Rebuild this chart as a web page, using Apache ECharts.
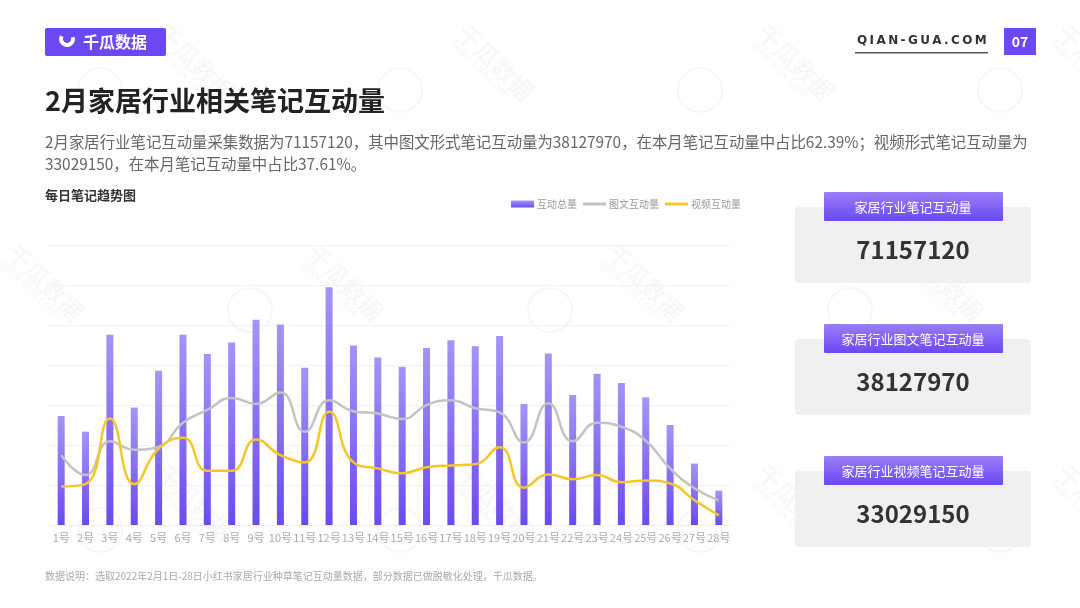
<!DOCTYPE html>
<html>
<head>
<meta charset="utf-8">
<script src="https://cdn.jsdelivr.net/npm/echarts@6/dist/echarts.min.js"></script>
<style>
html, body { margin: 0; padding: 0; background: #fff; }
#main { width: 1080px; height: 608px; }
</style>
</head>
<body>
<div id="main"></div>
<script>
// 每日数据（单位：万）
var days = ['1号','2号','3号','4号','5号','6号','7号','8号','9号','10号','11号','12号','13号','14号',
            '15号','16号','17号','18号','19号','20号','21号','22号','23号','24号','25号','26号','27号','28号'];
var totalData = [181,155,316,195,256,316,284,303,341,333,261,395,298,278,
                 263,294,307,297,314,201,285,216,251,236,212,166,102,57];
var imageTextData = [116,83,139,125,130,170,191,211,201,220,155,207,189,185,
                     176,199,207,194,187,137,202,139,170,163,140,94,61,41];
var videoData = [64,68,177,68,127,145,90,90,142,116,104,188,104,94,
                 86,96,99,101,129,62,84,76,83,71,74,69,41,16];
var seriesNames = ['互动总量', '图文互动量', '视频互动量'];
var cardLabels = ['家居行业笔记互动量', '家居行业图文笔记互动量', '家居行业视频笔记互动量'];
var cardValues = ['71157120', '38127970', '33029150'];
var yMax = 465;

var FONT = '"Noto Sans CJK SC", "Noto Sans", sans-serif';
var purple = '#6c48f2';

var chart = echarts.init(document.getElementById('main'));

function purpleGrad(top, bottom) {
    return new echarts.graphic.LinearGradient(0, 0, 0, 1, [
        { offset: 0, color: top },
        { offset: 1, color: bottom }
    ]);
}

var graphics = [];

// 水印
var wmPos = [[170, 20], [470, 20], [770, 20], [1070, 20], [20, 240], [320, 240], [620, 240], [920, 240],
             [170, 460], [470, 460], [770, 460], [1070, 460]];
wmPos.forEach(function (p) {
    graphics.push({
        type: 'circle', silent: true, z: 0,
        shape: { cx: p[0] - 70, cy: p[1] + 70, r: 22 },
        style: { fill: 'none', stroke: 'rgba(0,0,0,0.035)', lineWidth: 2 }
    });
    graphics.push({
        type: 'text', silent: true, z: 0, x: p[0], y: p[1], rotation: -Math.PI / 4,
        style: { text: '千瓜数据', font: 'bold 24px ' + FONT, fill: 'rgba(0,0,0,0.03)' }
    });
    graphics.push({
        type: 'text', silent: true, z: 0, x: p[0] - 14, y: p[1] + 18, rotation: -Math.PI / 4,
        style: { text: 'QIAN-GUA.COM', font: 'bold 10px ' + FONT, fill: 'rgba(0,0,0,0.03)' }
    });
});

// 顶部 logo
graphics.push({
    type: 'rect', shape: { x: 45, y: 28, width: 121, height: 28, r: 2 },
    style: { fill: purple }
});
graphics.push({
    type: 'arc', shape: { cx: 67, cy: 39, r: 6, startAngle: -0.3, endAngle: Math.PI + 0.5 },
    style: { stroke: '#fff', lineWidth: 4, fill: 'none' }
});
graphics.push({
    type: 'text', x: 83, y: 42,
    style: { text: '千瓜数据', font: 'bold 16px ' + FONT, fill: '#fff', textVerticalAlign: 'middle' }
});
graphics.push({
    type: 'text', x: 857, y: 41,
    style: { text: 'Q\u2009I\u2009A\u2009N\u2009-\u2009G\u2009U\u2009A\u2009.\u2009C\u2009O\u2009M',
             font: 'bold 12px "DejaVu Sans", sans-serif', fill: '#333', textVerticalAlign: 'middle' }
});
graphics.push({
    type: 'rect', shape: { x: 855, y: 52, width: 133, height: 1.5 }, style: { fill: '#555' }
});
graphics.push({
    type: 'rect', shape: { x: 1004, y: 28, width: 32, height: 27 }, style: { fill: purple }
});
graphics.push({
    type: 'text', x: 1020, y: 42,
    style: { text: '07', font: 'bold 14px ' + FONT, fill: '#fff', textAlign: 'center', textVerticalAlign: 'middle' }
});

// 标题和说明
graphics.push({
    type: 'text', x: 45, y: 101,
    style: { text: '2月家居行业相关笔记互动量', font: 'bold 27px ' + FONT, fill: '#222', textVerticalAlign: 'middle' }
});
graphics.push({
    type: 'text', x: 45, y: 142,
    style: { text: '2月家居行业笔记互动量采集数据为71157120，其中图文形式笔记互动量为38127970，在本月笔记互动量中占比62.39%；视频形式笔记互动量为',
             font: '15.4px ' + FONT, fill: '#666', textVerticalAlign: 'middle' }
});
graphics.push({
    type: 'text', x: 45, y: 164,
    style: { text: '33029150，在本月笔记互动量中占比37.61%。', font: '15.4px ' + FONT, fill: '#666', textVerticalAlign: 'middle' }
});
graphics.push({
    type: 'text', x: 45, y: 195,
    style: { text: '每日笔记趋势图', font: 'bold 13px ' + FONT, fill: '#333', textVerticalAlign: 'middle' }
});
graphics.push({
    type: 'text', x: 45, y: 576,
    style: { text: '数据说明：选取2022年2月1日-28日小红书家居行业种草笔记互动量数据，部分数据已做脱敏化处理，千瓜数据。',
             font: '10px ' + FONT, fill: '#aaa', textVerticalAlign: 'middle' }
});

// 右侧卡片
var cardTops = [192, 324, 456];
cardTops.forEach(function (t, i) {
    graphics.push({
        type: 'rect', shape: { x: 795, y: t + 15, width: 236, height: 76, r: 4 },
        style: { fill: '#f0f0f0' }
    });
    graphics.push({
        type: 'rect', shape: { x: 824, y: t, width: 179, height: 29, r: 1 },
        style: { fill: purpleGrad('#9a7ef8', '#6c48f2') }
    });
    graphics.push({
        type: 'text', x: 913, y: t + 15,
        style: { text: cardLabels[i], font: '13px ' + FONT, fill: '#fff', textAlign: 'center', textVerticalAlign: 'middle' }
    });
    graphics.push({
        type: 'text', x: 913, y: t + 58,
        style: { text: cardValues[i], font: 'bold 24px ' + FONT, fill: '#333', textAlign: 'center', textVerticalAlign: 'middle' }
    });
});

var lineIcon = 'path://M0 0H100V13H0Z';

chart.setOption({
    animation: false,
    textStyle: { fontFamily: FONT },
    legend: {
        data: [
            { name: seriesNames[0], icon: 'rect' },
            { name: seriesNames[1], icon: lineIcon },
            { name: seriesNames[2], icon: lineIcon }
        ],
        left: 506,
        top: 194,
        itemWidth: 23,
        itemHeight: 7,
        itemGap: 6,
        textStyle: { fontSize: 10, color: '#999', padding: [0, 0, 0, -2] }
    },
    grid: { left: 49, right: 349, top: 245, bottom: 83 },
    xAxis: {
        type: 'category',
        data: days,
        axisLine: { lineStyle: { color: '#eee' } },
        axisTick: { show: false },
        axisLabel: { color: '#aaa', fontSize: 11, margin: 7, interval: 0 }
    },
    yAxis: {
        type: 'value',
        min: 0,
        max: yMax,
        interval: yMax / 7,
        axisLabel: { show: false },
        axisLine: { show: false },
        axisTick: { show: false },
        splitLine: { lineStyle: { color: '#f2f2f2' } }
    },
    series: [
        {
            name: seriesNames[0],
            type: 'bar',
            data: totalData,
            barWidth: 7,
            itemStyle: { color: purpleGrad('#a793f6', '#6b4af0') },
            z: 2
        },
        {
            name: seriesNames[1],
            type: 'line',
            data: imageTextData,
            smooth: true,
            symbol: 'none',
            lineStyle: { color: '#c3c3c3', width: 2.5 },
            itemStyle: { color: '#c3c3c3' },
            z: 3
        },
        {
            name: seriesNames[2],
            type: 'line',
            data: videoData,
            smooth: true,
            symbol: 'none',
            lineStyle: { color: '#f6c626', width: 2.5 },
            itemStyle: { color: '#f6c626' },
            z: 4
        }
    ],
    graphic: graphics
});
</script>
</body>
</html>
